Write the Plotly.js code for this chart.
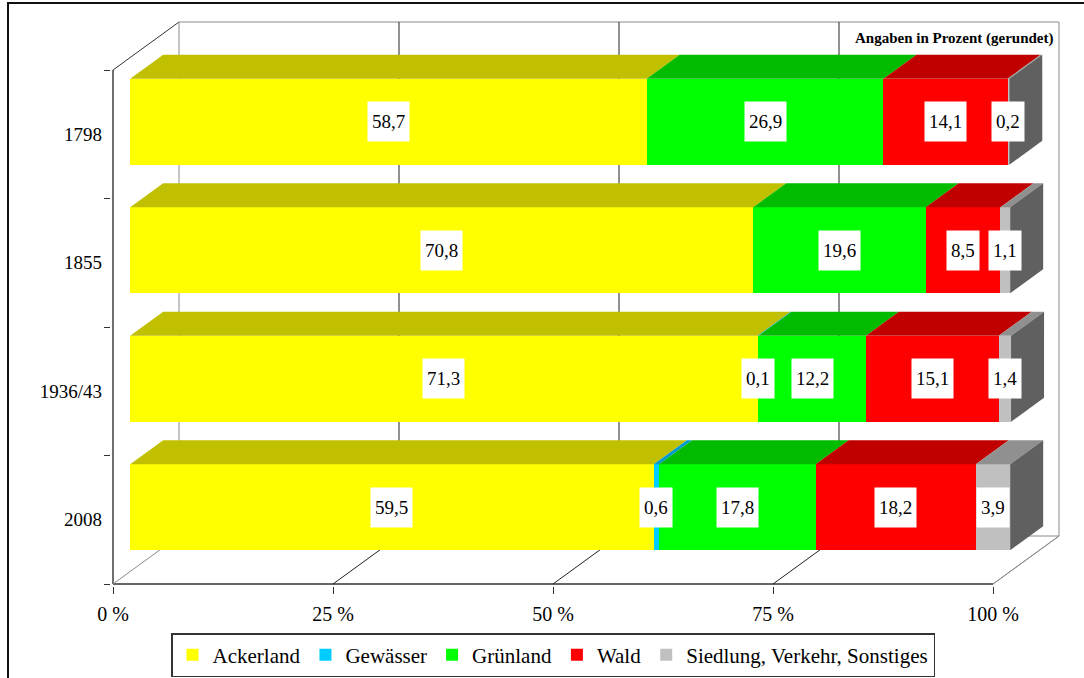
<!DOCTYPE html>
<html>
<head>
<meta charset="utf-8">
<script src="https://cdn.plot.ly/plotly-3.0.1.min.js"></script>
<style>
  html, body { margin: 0; padding: 0; background: #fff; }
  #chart { width: 1084px; height: 678px; }
</style>
</head>
<body>
<div id="chart"></div>
<script>
// Land use shares per survey year (percent, rounded)
const categories = ['1798', '1855', '1936/43', '2008'];
const ackerland  = [58.7, 70.8, 71.3, 59.5];
const gewaesser  = [0.0, 0.0, 0.1, 0.6];
const gruenland  = [26.9, 19.6, 12.2, 17.8];
const wald       = [14.1, 8.5, 15.1, 18.2];
const siedlung   = [0.2, 1.1, 1.4, 3.9];
const seriesNames = ['Ackerland', 'Gewässer', 'Grünland', 'Wald', 'Siedlung, Verkehr, Sonstiges'];
const percentTicks = [0, 25, 50, 75, 100];
const noteText = 'Angaben in Prozent (gerundet)';

// Styling
const FONT = 'Liberation Serif, Times New Roman, serif';
const frontColors = ['#FFFF00', '#00CCFF', '#00FF00', '#FF0000', '#C0C0C0'];
const topColors   = ['#C0C000', '#0099CC', '#00BB00', '#C00000', '#909090'];
const sideColor = '#606060';
const gridColor = '#222222';
const wallColor = '#8A8A8A';

// Pseudo-3D frame geometry (pixels)
const W = 1084, H = 678;
const box = { l: 113, t: 22, b: 584 };              // left wall front edge, back wall top, floor front
const plotPx = { l: 111, t: 19, r: 1064, b: 586 };  // plotting area, a little larger than the frame
const depthPx = { x: 66, y: 48 };                   // full depth of the box (right, up)
const BAR_FRONT = 0.26;                             // bar front plane, share of full depth
const BAR_DEPTH = 0.5;                              // bar thickness, share of full depth
const PX_PER_PCT = 8.8;
const BAR_FRONT_PX = 86;

const series = [ackerland, gewaesser, gruenland, wald, siedlung];
const nCat = categories.length;
const pitch = (box.b - box.t - depthPx.y) / nCat;
const barLeftPx = box.l + BAR_FRONT * depthPx.x;
const bar0Px = box.t + depthPx.y + pitch / 2 - BAR_FRONT * depthPx.y;

// pixel -> data coordinates of the bar front plane
const xd = p => (p - barLeftPx) / PX_PER_PCT;
const yd = p => (p - bar0Px) / pitch;
const px2paperX = p => (p - plotPx.l) / (plotPx.r - plotPx.l);
const px2paperY = p => (plotPx.b - p) / (plotPx.b - plotPx.t);

const barW = BAR_FRONT_PX / pitch;
const bdx = BAR_DEPTH * depthPx.x / PX_PER_PCT;
const bdy = BAR_DEPTH * depthPx.y / pitch;
const yIdx = categories.map((c, i) => i);

const traces = series.map((vals, s) => ({
  type: 'bar',
  orientation: 'h',
  name: seriesNames[s],
  x: vals,
  y: yIdx,
  width: barW,
  marker: { color: frontColors[s], line: { width: 0 } },
  hoverinfo: 'skip'
}));

const shapes = [];
const annotations = [];

function line(x0, y0, x1, y1, color, width, layer) {
  shapes.push({
    type: 'line', xref: 'x', yref: 'y',
    x0: xd(x0), y0: yd(y0), x1: xd(x1), y1: yd(y1),
    line: { color: color, width: width }, layer: layer || 'below'
  });
}

// Box frame: back wall, left wall and floor
const full = 100 * PX_PER_PCT;
const backL = box.l + depthPx.x, backR = backL + full;
const floorBack = box.b - depthPx.y;
const frontTop = box.t + depthPx.y;
line(backL, box.t, backR, box.t, wallColor, 1);
line(backR, box.t, backR, floorBack, wallColor, 1);
line(backL, floorBack, backR, floorBack, wallColor, 1);
line(box.l + full, box.b, backR, floorBack, wallColor, 1);
line(box.l, frontTop, backL, box.t, '#333333', 1);
line(box.l, frontTop, box.l, box.b, '#222222', 1.3);
line(box.l, box.b, box.l + full, box.b, '#333333', 1.3);
percentTicks.forEach(t => {
  const edge = (t === percentTicks[0] || t === percentTicks[percentTicks.length - 1]);
  const c = edge ? wallColor : gridColor;
  if (t !== percentTicks[percentTicks.length - 1]) {
    line(backL + t * PX_PER_PCT, box.t, backL + t * PX_PER_PCT, floorBack, c, 1);
  }
  line(box.l + t * PX_PER_PCT, box.b, backL + t * PX_PER_PCT, floorBack, c, 1);
});

// Top faces, side faces and value labels of every stacked segment
const fmt = v => v.toFixed(1).replace('.', ',');
yIdx.forEach(i => {
  const yt = i - barW / 2, yb = i + barW / 2;
  let cum = 0;
  series.forEach((vals, s) => {
    const v = vals[i];
    const a = cum, b = cum + v;
    if (v > 0) {
      shapes.push({
        type: 'path', xref: 'x', yref: 'y', layer: 'above',
        path: `M${a},${yt} L${b},${yt} L${b + bdx},${yt - bdy} L${a + bdx},${yt - bdy} Z`,
        fillcolor: topColors[s], line: { width: 0 }
      });
      annotations.push({
        xref: 'x', yref: 'y', x: (a + b) / 2, y: i,
        text: fmt(v), showarrow: false,
        font: { family: FONT, size: 19, color: '#000' },
        bgcolor: '#FFFFFF', borderpad: 4, height: 31
      });
    }
    cum = b;
  });
  shapes.push({
    type: 'path', xref: 'x', yref: 'y', layer: 'above',
    path: `M${cum},${yt} L${cum + bdx},${yt - bdy} L${cum + bdx},${yb - bdy} L${cum},${yb} Z`,
    fillcolor: sideColor, line: { width: 0 }
  });
});

// Note in the upper right corner
annotations.push({
  xref: 'paper', yref: 'paper', x: px2paperX(1055), y: px2paperY(38),
  xanchor: 'right', yanchor: 'middle', showarrow: false,
  text: '<b>' + noteText + '</b>',
  font: { family: FONT, size: 15, color: '#000' }
});

// Outer frame of the figure
shapes.push({
  type: 'rect', xref: 'paper', yref: 'paper', layer: 'above',
  x0: px2paperX(8), y0: px2paperY(H + 10), x1: px2paperX(W + 10), y1: px2paperY(3),
  line: { color: '#111111', width: 2 }, fillcolor: 'rgba(0,0,0,0)'
});

const layout = {
  width: W, height: H,
  paper_bgcolor: '#FFFFFF', plot_bgcolor: 'rgba(0,0,0,0)',
  margin: { l: plotPx.l, r: W - plotPx.r, t: plotPx.t, b: H - plotPx.b, pad: 0, autoexpand: false },
  barmode: 'stack',
  bargap: 0,
  showlegend: true,
  font: { family: FONT, color: '#000' },
  xaxis: {
    range: [xd(plotPx.l), xd(plotPx.r)],
    tickmode: 'array',
    tickvals: percentTicks.map(t => xd(box.l + t * PX_PER_PCT)),
    ticktext: percentTicks.map(t => t + ' %'),
    ticks: 'outside', ticklen: 7, tickcolor: '#333', tickwidth: 1,
    tickfont: { family: FONT, size: 20, color: '#000' },
    ticklabelstandoff: 3,
    automargin: false,
    showgrid: false, zeroline: false, showline: false, fixedrange: true
  },
  yaxis: {
    range: [yd(plotPx.b), yd(plotPx.t)],
    tickmode: 'array',
    tickvals: yIdx.map(i => yd(frontTop + pitch * (i + 0.5))),
    ticktext: categories,
    ticks: '',
    minor: {
      tickmode: 'array',
      tickvals: [0, 1, 2, 3, 4].map(k => yd(frontTop + pitch * k)),
      ticks: 'outside', ticklen: 6, tickcolor: '#333', tickwidth: 1, showgrid: false
    },
    tickfont: { family: FONT, size: 19, color: '#000' },
    ticklabelstandoff: 8,
    automargin: false,
    showgrid: false, zeroline: false, showline: false, fixedrange: true
  },
  legend: {
    orientation: 'h', traceorder: 'normal',
    x: px2paperX(553), xanchor: 'center',
    y: px2paperY(633), yanchor: 'top',
    bgcolor: '#FFFFFF', bordercolor: '#333333', borderwidth: 1.5,
    font: { family: FONT, size: 21, color: '#000' },
    itemclick: false, itemdoubleclick: false
  },
  shapes: shapes,
  annotations: annotations
};

Plotly.newPlot('chart', traces, layout, { staticPlot: true, displayModeBar: false });
</script>
</body>
</html>
